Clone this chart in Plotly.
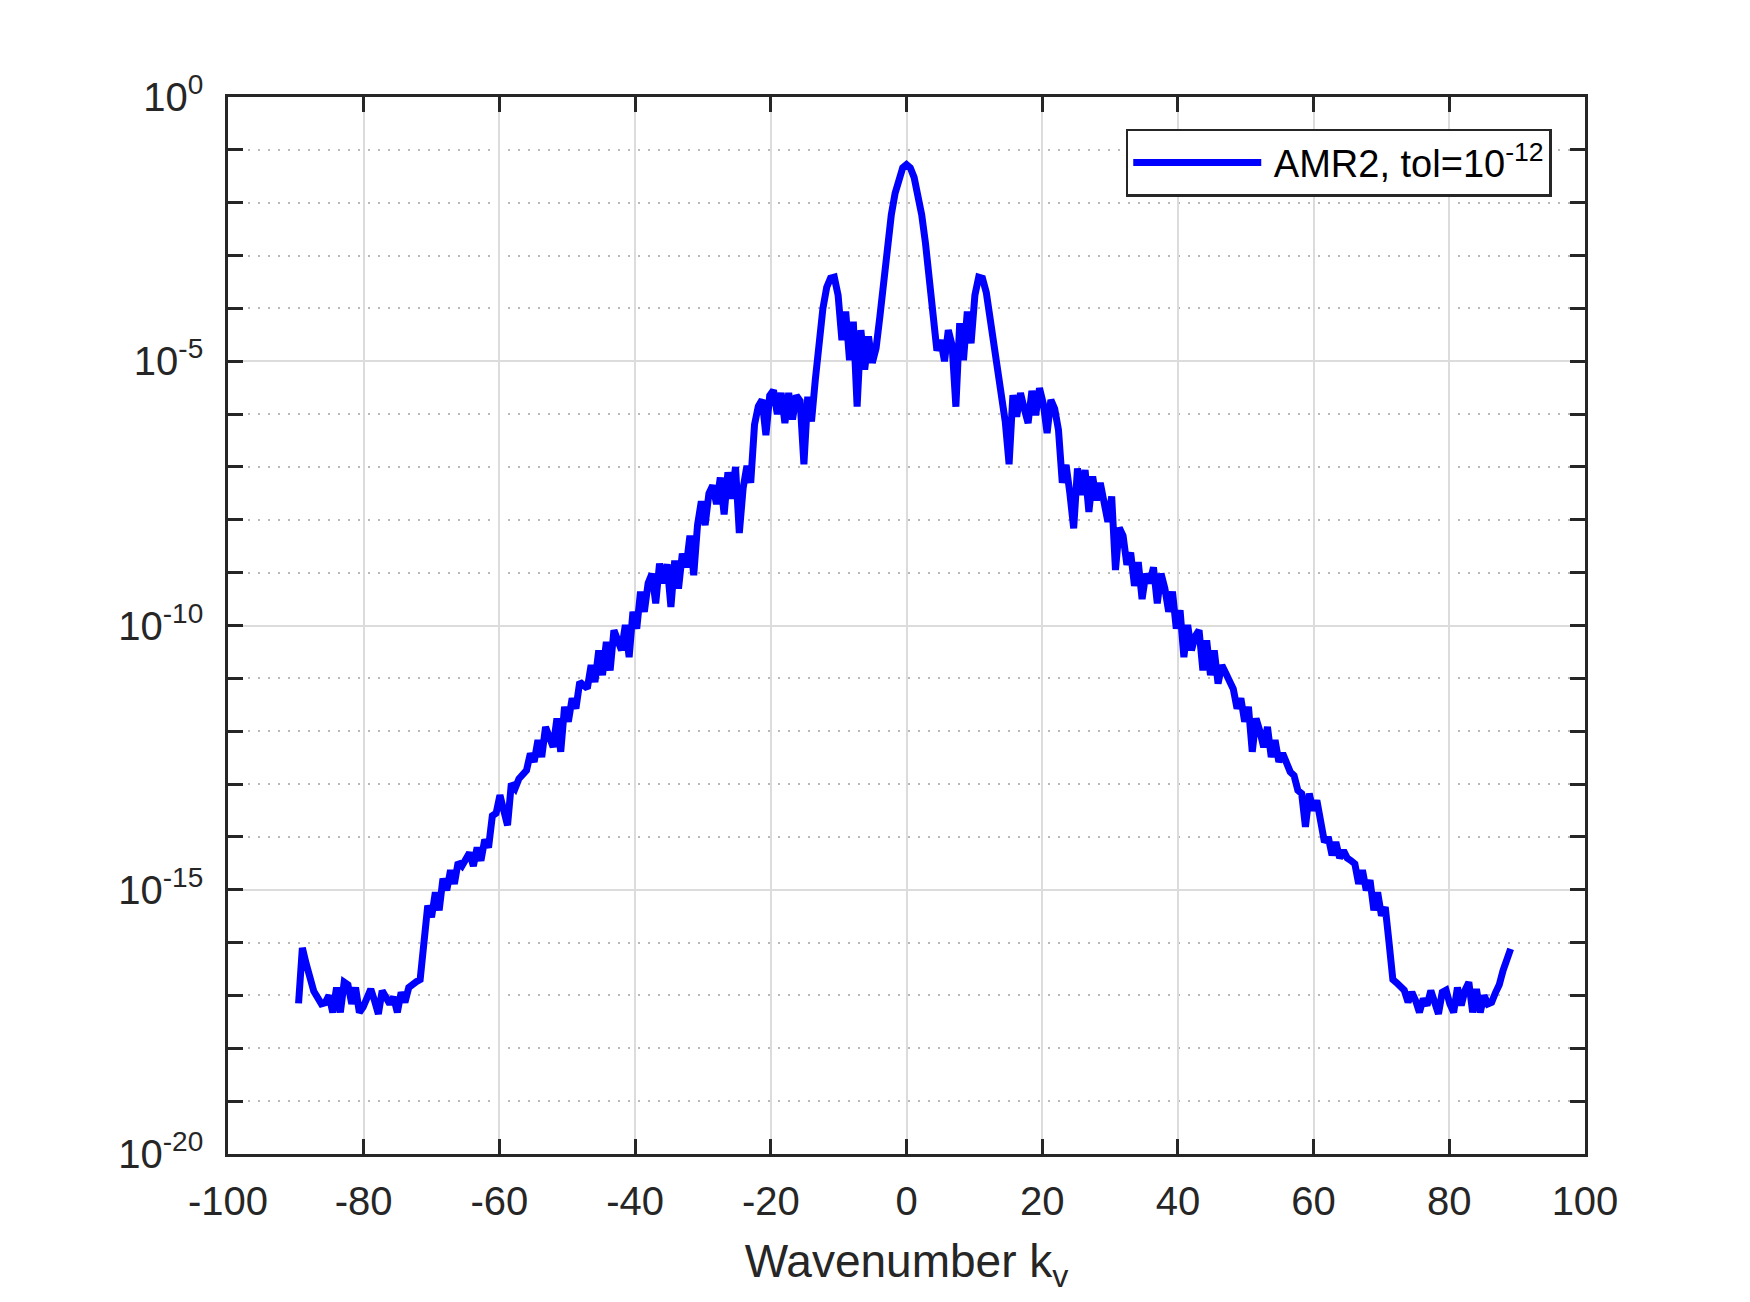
import numpy as np
import plotly.graph_objects as go

# ---------------- data ----------------
# FFT wavenumber grid: k = dk * (-N/2 ... N/2-1)
n_modes = 320
dk = 0.56
mode_index = np.arange(-n_modes // 2, n_modes // 2)
wavenumber = dk * mode_index

# log10 of the spectrum, split in pieces (left to right)
log10_left_tail = [
    -17.15, -16.10, -16.40, -16.70, -16.92, -17.04, -17.16, -17.14, -17.00, -17.32,
    -16.85, -17.32, -16.75, -16.80, -17.16, -16.85, -17.32, -17.22, -17.05, -16.88,
    -17.10, -17.35, -16.91, -17.05, -17.16, -17.03, -17.32, -16.94, -17.13, -16.85,
    -16.78, -16.74, -16.70, -15.90, -15.30, -15.52, -15.05, -15.39, -14.79, -15.01,
    -14.63, -14.89, -14.48, -14.55, -14.41, -14.30, -14.55, -14.20, -14.45, -14.05,
]
log10_left_slope = [
    -14.20, -13.60, -13.55, -13.21, -13.50, -13.78, -12.99, -13.08, -12.90, -12.80,
    -12.74, -12.42, -12.58, -12.17, -12.49, -11.92, -12.10, -12.30, -11.76, -12.39,
    -11.54, -11.82, -11.38, -11.57, -11.07, -11.12, -11.19, -10.75, -11.07, -10.47,
    -10.94, -10.31, -10.85, -10.09, -10.30, -10.47, -9.99, -10.60, -9.74, -10.06,
    -9.36, -9.74, -9.20, -9.02, -9.58, -8.83, -9.20, -8.84, -9.65, -8.77,
    -9.30, -8.64, -8.90, -8.30, -9.05, -8.10, -7.65, -8.10, -7.50, -7.35,
    -7.70, -7.20, -7.90, -7.10, -7.60, -7.00, -8.25, -7.40, -6.98, -7.30,
]
log10_core = [
    -6.20, -5.85, -5.73, -6.40, -5.65, -5.55, -6.00, -5.60, -6.17, -5.60,
    -6.10, -5.65, -5.75, -6.95, -5.67, -6.14, -5.35, -4.65, -4.00, -3.60,
    -3.43, -3.41, -3.75, -4.60, -4.06, -4.98, -4.25, -5.86, -4.41, -5.16,
    -4.53, -5.03, -4.75, -4.15, -3.43, -2.77, -2.23, -1.82, -1.52, -1.34,
    -1.28,
    -1.34, -1.52, -1.82, -2.23, -2.77, -3.43, -4.15, -4.80, -4.60, -5.00,
    -4.41, -4.70, -5.86, -4.28, -4.98, -4.06, -4.66, -3.75, -3.41, -3.43,
    -3.70, -4.20, -4.65, -5.20, -5.70, -6.15, -6.95, -5.64, -6.05, -5.60,
    -5.90, -6.17, -5.56, -6.02, -5.51, -5.80, -6.36, -5.73, -5.90, -6.30,
]
log10_right_slope = [
    -7.30, -6.96, -7.50, -8.16, -7.03, -7.53, -7.06, -7.85, -7.18, -7.63,
    -7.30, -7.70, -8.04, -7.56, -8.95, -8.15, -8.30, -8.85, -8.62, -9.25,
    -8.80, -9.50, -9.02, -9.20, -8.90, -9.58, -9.02, -9.30, -9.74, -9.36,
    -10.06, -9.71, -10.60, -9.99, -10.47, -10.20, -10.09, -10.85, -10.28, -10.94,
    -10.47, -11.10, -10.75, -10.90, -11.07, -11.20, -11.57, -11.38, -11.82, -11.54,
    -12.39, -11.76, -12.00, -12.30, -11.92, -12.49, -12.17, -12.58, -12.42, -12.60,
    -12.77, -12.84, -13.12, -13.18, -13.81, -13.18, -13.50, -13.31, -13.70, -14.10,
]
log10_right_tail = [
    -14.00, -14.35, -14.10, -14.40, -14.26, -14.40, -14.45, -14.51, -14.89, -14.63,
    -15.01, -14.82, -15.39, -15.05, -15.49, -15.33, -16.00, -16.70, -16.76, -16.82,
    -16.90, -17.13, -16.94, -17.10, -17.32, -17.06, -17.19, -16.91, -17.10, -17.35,
    -16.94, -16.90, -17.16, -17.32, -16.85, -17.19, -16.90, -16.75, -17.32, -16.88,
    -17.32, -17.00, -17.16, -17.13, -16.95, -16.80, -16.53, -16.35, -16.12,
]

log10_power = np.concatenate([log10_left_tail, log10_left_slope, log10_core,
                              log10_right_slope, log10_right_tail])
assert log10_power.size == n_modes
power = 10.0 ** log10_power

series_name = "\u2009AMR2, tol=10<sup>-12</sup>"

x_tick_vals = [-100, -80, -60, -40, -20, 0, 20, 40, 60, 80, 100]
x_tick_text = ["-100", "-80", "-60", "-40", "-20", "0", "20", "40", "60", "80", "100"]
y_major_exponents = [-20, -15, -10, -5, 0]
y_tick_text = ["10<sup>-20</sup>", "10<sup>-15</sup>", "10<sup>-10</sup>",
               "10<sup>-5</sup>", "10<sup>0</sup>"]
y_minor_exponents = [e for e in range(-20, 1) if e not in y_major_exponents]

axis_color = "#262626"

# ---------------- figure ----------------
fig = go.Figure()
fig.add_trace(go.Scatter(
    x=wavenumber, y=power, mode="lines", name=series_name,
    line=dict(color="#0000ff", width=7),
))

fig.update_layout(
    width=1750, height=1302,
    margin=dict(l=228, r=165, t=97, b=148, autoexpand=False),
    paper_bgcolor="white", plot_bgcolor="white",
    font=dict(family="Liberation Sans, Arial, sans-serif", color=axis_color, size=40),
    showlegend=True,
    legend=dict(
        x=0.9755, y=0.97, xanchor="right", yanchor="top",
        bgcolor="white", bordercolor=axis_color, borderwidth=2.5,
        font=dict(size=38, color="black"),
        itemwidth=128,
    ),
)

fig.update_xaxes(
    range=[-100, 100], tickmode="array", tickvals=x_tick_vals, ticktext=x_tick_text,
    ticks="inside", ticklen=15, tickwidth=2.5, tickcolor=axis_color,
    showline=True, linewidth=2.5, linecolor=axis_color, mirror="ticks",
    showgrid=True, gridcolor="#dcdcdc", gridwidth=2, zeroline=False,
    tickfont=dict(size=40), ticklabelstandoff=10,
    title=dict(text="Wavenumber k<sub>v</sub>", font=dict(size=46), standoff=24),
)
fig.update_yaxes(
    type="log", range=[-20, 0], tickmode="array",
    tickvals=[10.0 ** e for e in y_major_exponents], ticktext=y_tick_text,
    ticks="inside", ticklen=15, tickwidth=2.5, tickcolor=axis_color,
    showline=True, linewidth=2.5, linecolor=axis_color, mirror="ticks",
    showgrid=True, gridcolor="#dcdcdc", gridwidth=2, zeroline=False,
    tickfont=dict(size=40), ticklabelstandoff=14,
    minor=dict(
        tickmode="array", tickvals=[10.0 ** e for e in y_minor_exponents],
        ticks="inside", ticklen=15, tickwidth=2.5, tickcolor=axis_color,
        showgrid=True, gridcolor="#b8b8b8", gridwidth=2, griddash="2px,8px",
    ),
)

fig.write_html("out.html")
